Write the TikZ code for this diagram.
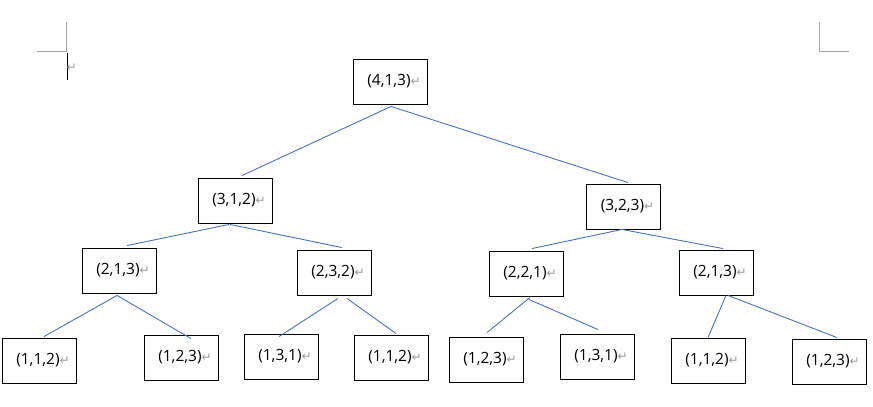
\documentclass[tikz,border=0pt]{standalone}
\usepackage{fontspec}
\setmainfont{Open Sans}
\newfontfamily\symfont{DejaVu Sans}
\usetikzlibrary{positioning}
\definecolor{linkblue}{HTML}{4472C4}
\newcommand{\parmark}{{\color{black!40}\symfont\fontsize{12}{12}\selectfont ↵}}
\tikzset{
    %Define style for boxes
    vecbox/.style={
           rectangle,
           draw=black, line width=0.9pt,
           minimum width=74pt,
           minimum height=45pt,
           inner sep=0pt,
           font=\fontsize{15.5}{18}\selectfont,
           text centered,
           },
    % Define line style
    link/.style={
           draw=linkblue,
           line width=0.9pt,},
    crop/.style={
           draw=black!35,
           line width=1pt,}
}
\begin{document}
\begin{tikzpicture}[x=1pt,y=-1pt]
\useasboundingbox (0,0) rectangle (873,407);
% page marks
\draw[crop] (66.7,22) -- (66.7,51) -- (37,51);
\draw[crop] (819,22) -- (819,51) -- (849,51);
\draw[black,line width=1.3pt] (67.3,53) -- (67.3,80);
\node[anchor=west,inner sep=0pt] (empty) at (66.5,68) {\parmark};
% tree
\node[vecbox] (r) at (390,81.5) {\hspace*{8pt}(4,1,3)\parmark};
\node[vecbox] (a) at (235,200.5) {\hspace*{8pt}(3,1,2)\parmark};
\node[vecbox] (b) at (623.5,206.5) {\hspace*{8pt}(3,2,3)\parmark};
\node[vecbox] (aa) at (119,270.5) {\hspace*{8pt}(2,1,3)\parmark};
\node[vecbox] (ab) at (334,272.5) {\hspace*{8pt}(2,3,2)\parmark};
\node[vecbox] (ba) at (526,273.5) {\hspace*{8pt}(2,2,1)\parmark};
\node[vecbox] (bb) at (716,272.5) {\hspace*{8pt}(2,1,3)\parmark};
\node[vecbox] (aaa) at (39,360.5) {\hspace*{8pt}(1,1,2)\parmark};
\node[vecbox] (aab) at (181,357.5) {\hspace*{8pt}(1,2,3)\parmark};
\node[vecbox] (aba) at (281,356.5) {\hspace*{8pt}(1,3,1)\parmark};
\node[vecbox] (abb) at (391,357.5) {\hspace*{8pt}(1,1,2)\parmark};
\node[vecbox] (baa) at (486,359.5) {\hspace*{8pt}(1,2,3)\parmark};
\node[vecbox] (bab) at (597,356.5) {\hspace*{8pt}(1,3,1)\parmark};
\node[vecbox] (bba) at (708,360.5) {\hspace*{8pt}(1,1,2)\parmark};
\node[vecbox] (bbb) at (829,361.5) {\hspace*{8pt}(1,2,3)\parmark};
\path[link]
	([xshift=1pt,yshift=-2pt]r.south) edge ([xshift=7pt,yshift=2pt]a.north)
	([xshift=1pt,yshift=-2pt]r.south) edge ([xshift=4.5pt,yshift=1pt]b.north)
	([xshift=-6pt,yshift=-1pt]a.south) edge ([xshift=8pt,yshift=2pt]aa.north)
	([xshift=-5pt,yshift=-1pt]a.south) edge ([xshift=8pt,yshift=2pt]ab.north)
	([xshift=-1.5pt]b.south) edge ([xshift=6pt,yshift=2pt]ba.north)
	([xshift=-1.5pt]b.south) edge ([xshift=7pt,yshift=1pt]bb.north)
	([xshift=-2pt,yshift=-2pt]aa.south) edge ([xshift=5pt,yshift=1pt]aaa.north)
	([xshift=-2pt,yshift=-2pt]aa.south) edge ([xshift=10pt,yshift=-4pt]aab.north)
	([xshift=4pt,yshift=-3pt]ab.south) edge ([xshift=-2pt,yshift=-3pt]aba.north)
	([xshift=13pt,yshift=-3pt]ab.south) edge ([xshift=5pt,yshift=1pt]abb.north)
	([xshift=4pt,yshift=-1pt]ba.south) edge ([xshift=1pt,yshift=4pt]baa.north)
	([xshift=3pt,yshift=-3pt]ba.south) edge ([xshift=1pt,yshift=4pt]bab.north)
	([xshift=10pt]bb.south) edge (bba.north)
	([xshift=12pt]bb.south) edge ([xshift=8pt,yshift=1pt]bbb.north);
\end{tikzpicture}
\end{document}
